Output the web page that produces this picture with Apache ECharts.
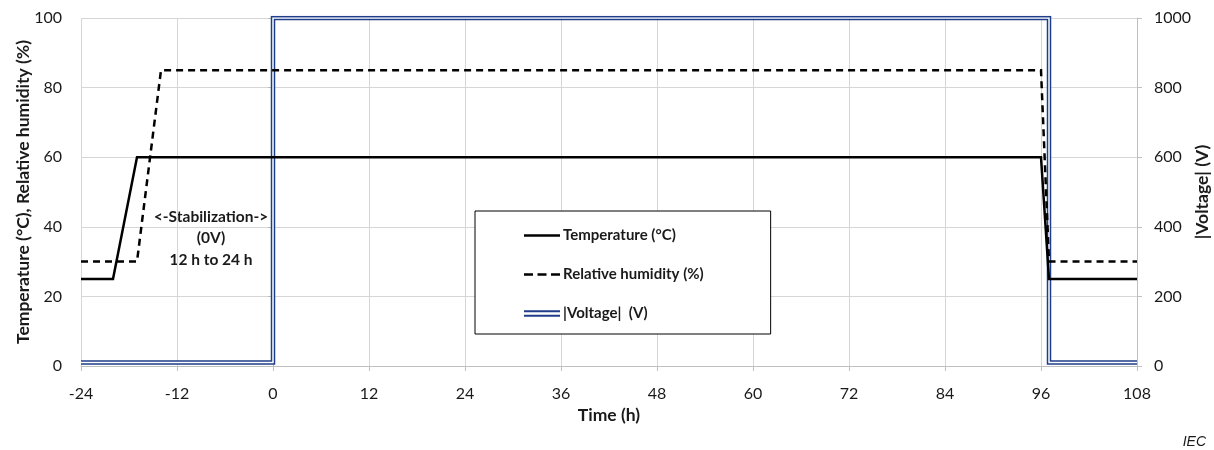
<!DOCTYPE html>
<html>
<head>
<meta charset="utf-8">
<script src="https://cdn.jsdelivr.net/npm/echarts@6/dist/echarts.min.js"></script>
<style>
html,body{margin:0;padding:0;background:#fff;}
#c{width:1214px;height:450px;}
</style>
</head>
<body>
<div id="c"></div>
<script>
// ---- data ----
const xTicks = [-24, -12, 0, 12, 24, 36, 48, 60, 72, 84, 96, 108];
const tempTime = [-24, -20, -17, 96, 97, 108];
const tempVal  = [25, 25, 60, 60, 25, 25];
const rhTime   = [-24, -17, -14, 96, 97, 108];
const rhVal    = [30, 30, 85, 85, 30, 30];
const voltTime = [-24, 0, 0, 97, 97, 108];
const voltVal  = [10, 10, 1000, 1000, 10, 10];
const seriesNames = ['Temperature (°C)', 'Relative humidity (%)', '|Voltage|  (V)'];
const annotation = ['<-Stabilization->', '(0V)', '12 h to 24 h'];

const pairs = (xs, ys) => xs.map((x, i) => [x, ys[i]]);
const FONT = 'Lato, "Open Sans", sans-serif';
const navy = '#1f3d8a';
const txt = '#1a1a1a';

const chart = echarts.init(document.getElementById('c'), null, {renderer: 'canvas'});
chart.setOption({
  animation: false,
  backgroundColor: '#fff',
  grid: {left: 81, right: 77, top: 18, bottom: 84, containLabel: false, outerBoundsMode: 'none'},
  xAxis: {
    type: 'value', min: -24, max: 108, interval: 12,
    name: 'Time (h)', nameLocation: 'middle', nameGap: 40, nameMoveOverlap: false,
    nameTextStyle: {fontFamily: FONT, fontWeight: 'bold', fontSize: 17.5, color: txt},
    axisLine: {show: true, onZero: false, lineStyle: {color: '#bfbfbf', width: 1}},
    axisTick: {show: true, length: 5, lineStyle: {color: '#bfbfbf'}},
    axisLabel: {fontFamily: FONT, fontSize: 16, color: txt, margin: 20,
      formatter: v => xTicks.includes(v) ? String(v) : ''},
    splitLine: {show: true, lineStyle: {color: '#d6d6d6', width: 1}}
  },
  yAxis: [{
    type: 'value', min: 0, max: 100, interval: 20, position: 'left',
    name: 'Temperature (°C), Relative humidity (%)', nameLocation: 'middle', nameGap: 49, nameRotate: 90,
    nameMoveOverlap: false,
    nameTextStyle: {fontFamily: FONT, fontWeight: 'bold', fontSize: 17.5, color: txt},
    axisLine: {show: true, lineStyle: {color: '#bfbfbf'}},
    axisTick: {show: true, length: 5, lineStyle: {color: '#bfbfbf'}},
    axisLabel: {fontFamily: FONT, fontSize: 16, color: txt, margin: 19, formatter: v => String(v)},
    splitLine: {show: true, lineStyle: {color: '#d6d6d6', width: 1}}
  }, {
    type: 'value', min: 0, max: 1000, interval: 200, position: 'right',
    name: '|Voltage| (V)', nameLocation: 'middle', nameGap: 56, nameRotate: 90,
    nameMoveOverlap: false,
    nameTextStyle: {fontFamily: FONT, fontWeight: 'bold', fontSize: 17.5, color: txt},
    axisLine: {show: true, lineStyle: {color: '#bfbfbf'}},
    axisTick: {show: true, length: 5, lineStyle: {color: '#bfbfbf'}},
    axisLabel: {fontFamily: FONT, fontSize: 16, color: txt, margin: 17, formatter: v => String(v)},
    splitLine: {show: false}
  }],
  legend: {
    orient: 'vertical', left: 475, top: 211,
    padding: [17, 67, 13, 49],
    itemWidth: 36, itemHeight: 14, itemGap: 24,
    backgroundColor: '#fff', borderColor: '#000', borderWidth: 1,
    textStyle: {fontFamily: FONT, fontWeight: 'bold', fontSize: 15, color: txt, padding: [0,0,0,-2]},
    data: [
      {name: seriesNames[0], icon: 'path://M0,0H40V3H0Z'},
      {name: seriesNames[1], icon: 'path://M0,0H10V3H0Z M15,0H25V3H15Z M30,0H40V3H30Z'},
      {name: seriesNames[2], icon: 'path://M0,0H40V2.4H0Z M0,5H40V7.4H0Z'}
    ]
  },
  graphic: [{
    type: 'text', x: 211, y: 206,
    style: {text: annotation.join('\n'), align: 'center', verticalAlign: 'top',
      fontFamily: FONT, fontWeight: 'bold', fontSize: 15.5, lineHeight: 21.5, fill: txt}
  }, {
    type: 'text', right: 8, top: 435,
    style: {text: 'IEC', fontFamily: '"Liberation Sans", Arial, sans-serif', fontStyle: 'italic', fontSize: 14, fill: txt}
  }],
  series: [{
    name: seriesNames[2], type: 'line', yAxisIndex: 1, data: pairs(voltTime, voltVal),
    symbol: 'none', color: navy, lineStyle: {color: navy, width: 4.5, join: 'miter'}, z: 2
  }, {
    name: 'voltInner', type: 'line', yAxisIndex: 1, data: pairs(voltTime, voltVal),
    symbol: 'none', silent: true, color: '#fff', lineStyle: {color: '#fff', width: 1.5, join: 'miter'}, z: 3
  }, {
    name: seriesNames[0], type: 'line', data: pairs(tempTime, tempVal),
    symbol: 'none', color: '#000', lineStyle: {color: '#000', width: 2.5, join: 'miter'}, z: 4
  }, {
    name: seriesNames[1], type: 'line', data: pairs(rhTime, rhVal),
    symbol: 'none', color: '#000', lineStyle: {color: '#000', width: 2.5, type: [7, 5], join: 'miter'}, z: 4
  }]
});
</script>
</body>
</html>
